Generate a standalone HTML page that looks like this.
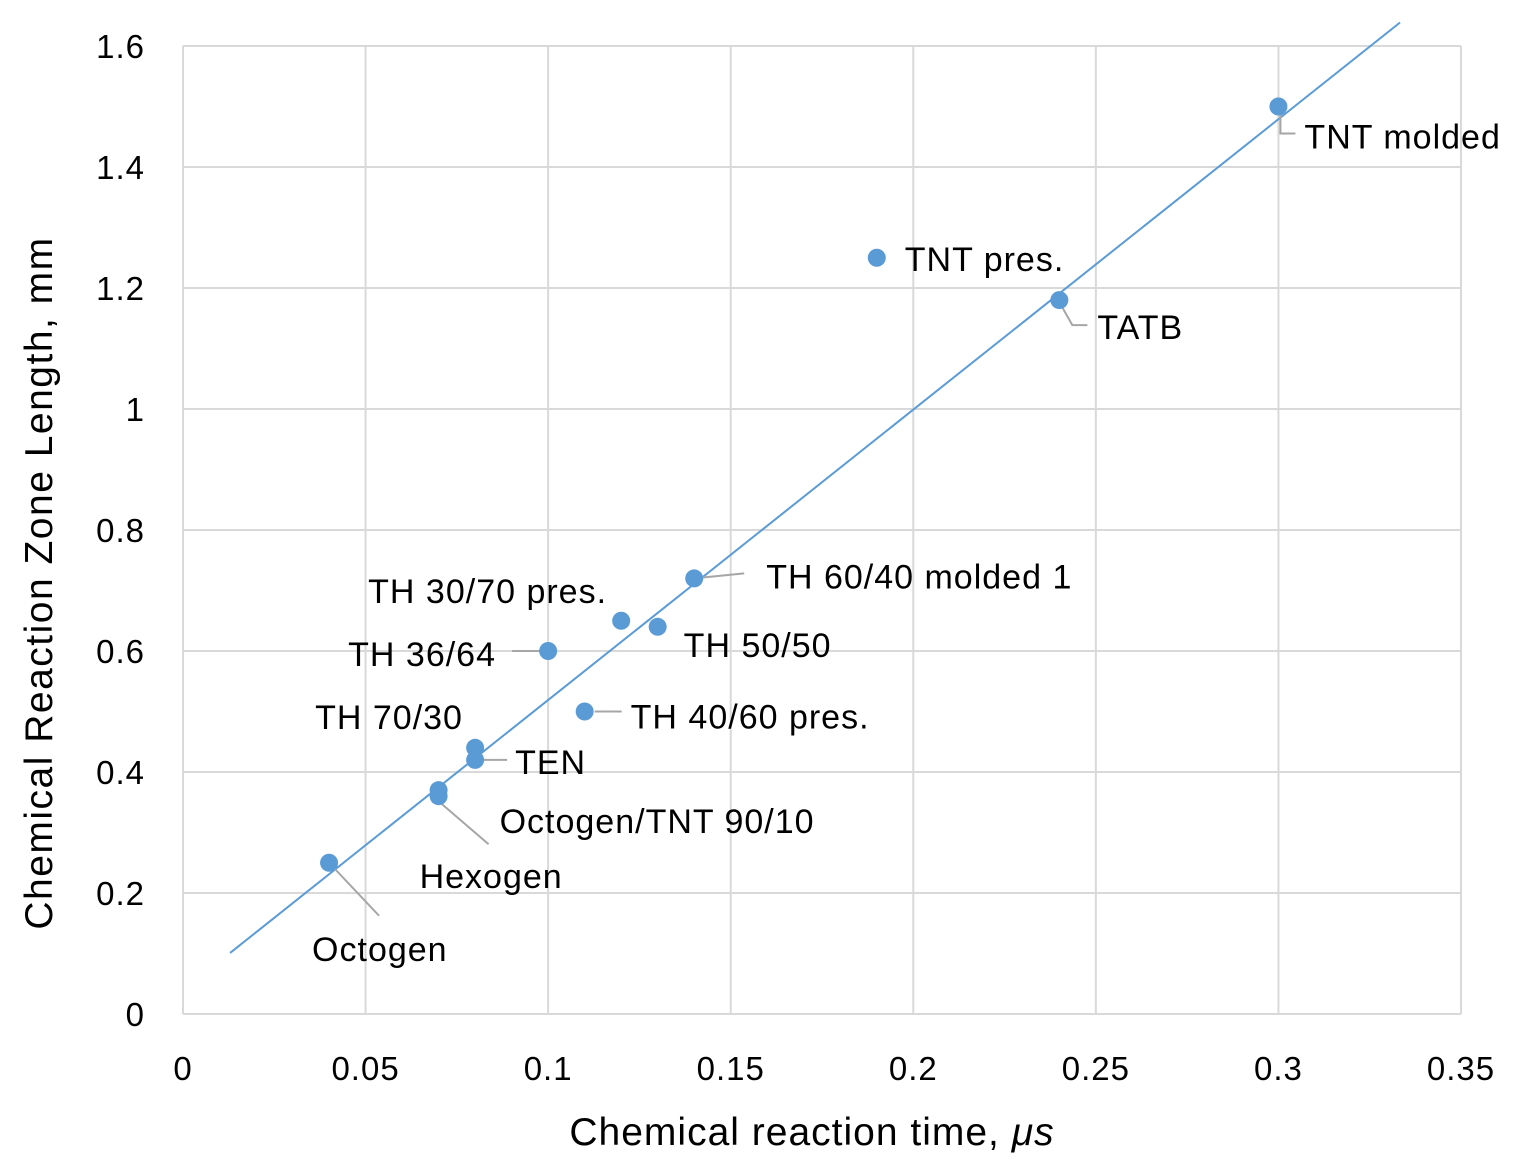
<!DOCTYPE html>
<html><head><meta charset="utf-8"><style>
html,body{margin:0;padding:0;background:#fff;}
svg{display:block;font-family:"Liberation Sans",sans-serif;}
</style></head><body>
<svg id="chart" width="1528" height="1166" viewBox="0 0 1528 1166"></svg>
<script>
const names = ["Octogen","Hexogen","Octogen/TNT 90/10","TEN","TH 70/30","TH 36/64","TH 40/60 pres.","TH 30/70 pres.","TH 50/50","TH 60/40 molded 1","TNT pres.","TATB","TNT molded"];
const xVals = [0.04,0.07,0.07,0.08,0.08,0.10,0.11,0.12,0.13,0.14,0.19,0.24,0.30];
const yVals = [0.25,0.36,0.37,0.42,0.44,0.60,0.50,0.65,0.64,0.72,1.25,1.18,1.50];
const xTicks = ["0","0.05","0.1","0.15","0.2","0.25","0.3","0.35"];
const yTicks = ["0","0.2","0.4","0.6","0.8","1","1.2","1.4","1.6"];
const trendSlope = 4.80, trendIntercept = 0.039, trendX0 = 0.0129, trendX1 = 0.3333;

// layout (pixel offsets from point: label dx,dy and leader polyline offsets)
const labelLayout = [
  [-17,86,[[0,0],[50,53]]],
  [-19,80,[[0,5],[50,48]]],
  [61,31,[]],
  [40,2,[[5,0],[32,0]]],
  [-160,-31,[]],
  [-200,3,[[-36,0],[-8,0]]],
  [46,5,[[10,0],[37,0]]],
  [-253,-30,[]],
  [26,18,[]],
  [72,-2,[[0,0],[50,-5]]],
  [28,1,[]],
  [38,27,[[0,2],[13,25],[28,25]]],
  [26,30,[[2,4],[2,27],[17,27]]]
];

const X0=183, X1=1461, Y0=1014, Y1=46;
const sx = v => X0 + v/0.35*(X1-X0);
const sy = v => Y0 - v/1.6*(Y0-Y1);
const svg = document.getElementById('chart');
const NS = "http://www.w3.org/2000/svg";
function mk(tag, attrs, parent){
  const e = document.createElementNS(NS, tag);
  for (const k in attrs) e.setAttribute(k, attrs[k]);
  (parent||svg).appendChild(e); return e;
}
xTicks.forEach((t,i)=>{
  const v = i*0.05, x = sx(v);
  const l = mk('line',{x1:x,y1:Y1,x2:x,y2:Y0,stroke:'#d9d9d9','stroke-width':2});
  
  
  const tx = mk('text',{x:x,y:1080,'font-size':33,'letter-spacing':1,'text-anchor':'middle',fill:'#000'});
  tx.textContent = t;
  
  
});
yTicks.forEach((t,i)=>{
  const v = i*0.2, y = sy(v);
  const l = mk('line',{x1:X0,y1:y,x2:X1,y2:y,stroke:'#d9d9d9','stroke-width':2});
  
  
  const tx = mk('text',{x:145,y:y+12,'font-size':33,'letter-spacing':1,'text-anchor':'end',fill:'#000'});
  tx.textContent = t;
  
  
});
const tl = mk('line',{x1:sx(trendX0),y1:sy(trendSlope*trendX0+trendIntercept),x2:sx(trendX1),y2:sy(trendSlope*trendX1+trendIntercept),stroke:'#5b9bd5','stroke-width':2});


names.forEach((n,i)=>{
  const px = sx(xVals[i]), py = sy(yVals[i]);
  const lay = labelLayout[i];
  if (lay[2].length){
    const pts = lay[2].map(p=>(px+p[0])+','+(py+p[1])).join(' ');
    const pl = mk('polyline',{points:pts,fill:'none',stroke:'#a6a6a6','stroke-width':2});
    
    
  }
});
names.forEach((n,i)=>{
  const px = sx(xVals[i]), py = sy(yVals[i]);
  const c = mk('circle',{cx:px,cy:py,r:9,fill:'#5b9bd5'});
  
  
  const lay = labelLayout[i];
  const t = mk('text',{x:px+lay[0],y:py+lay[1]+12,'font-size':34,'letter-spacing':1,fill:'#000'});
  t.textContent = n;
  
  
});
const xt = mk('text',{x:812,y:1145,'font-size':39,'letter-spacing':1,'text-anchor':'middle',fill:'#000'});
xt.innerHTML = 'Chemical reaction time, <tspan font-style="italic">μs</tspan>';


const yt = mk('text',{x:0,y:0,'font-size':39,'letter-spacing':1.5,'text-anchor':'middle',fill:'#000',transform:'translate(52,583) rotate(-90)'});
yt.textContent = 'Chemical Reaction Zone Length, mm';


</script>
</body></html>
